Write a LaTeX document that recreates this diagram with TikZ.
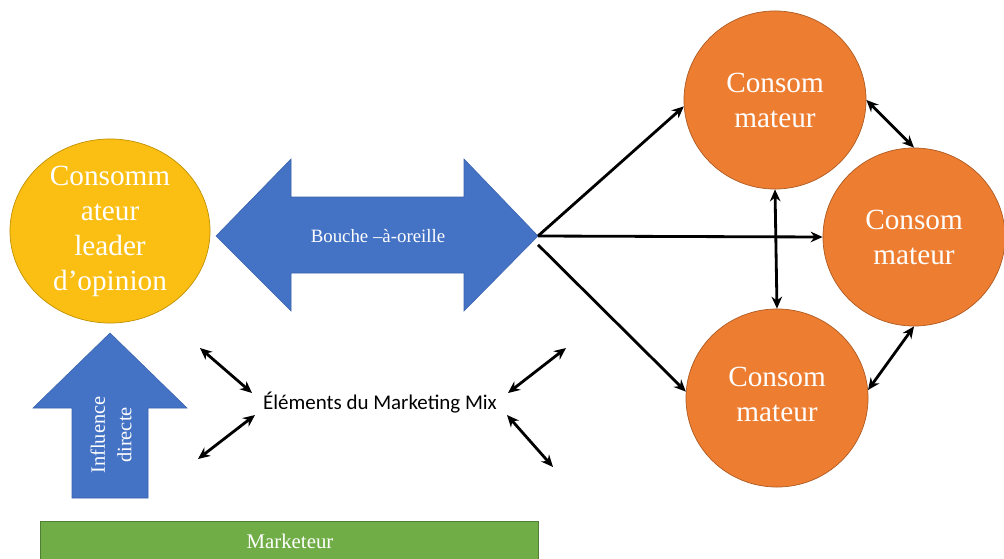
\documentclass[tikz,border=0pt]{standalone}
\usepackage{fontspec}
\setmainfont{Liberation Serif}
\newfontfamily\calib{Carlito}
\usetikzlibrary{shapes.geometric,arrows.meta}
\definecolor{ygold}{HTML}{FBBF14}
\definecolor{ygoldb}{HTML}{BF9000}
\definecolor{oorange}{HTML}{ED7D31}
\definecolor{oorangeb}{HTML}{AE5A21}
\definecolor{bblue}{HTML}{4472C4}
\definecolor{bblueb}{HTML}{3A63AE}
\definecolor{ggreen}{HTML}{70AD47}
\definecolor{ggreenb}{HTML}{507E32}
\begin{document}
\begin{tikzpicture}[x=0.025cm,y=-0.025cm,
  bigtxt/.style={text=white,align=center,font=\fontsize{20.8}{24.9}\selectfont},
  circ/.style={ellipse,draw=oorangeb,line width=0.5pt,fill=oorange,inner sep=0pt,
     minimum width=4.55cm,minimum height=4.45cm},
  conn/.style={line width=2pt,-{Stealth[length=8.5pt,width=7.5pt]}},
  dconn/.style={line width=2pt,{Stealth[length=8.5pt,width=7.5pt]}-{Stealth[length=8.5pt,width=7.5pt]}},
  shaftarrow/.style={fill=bblue,draw=bblueb,line width=0.4pt}]
\useasboundingbox (0,0) rectangle (1004,558);

% yellow leader circle
\node[ellipse,draw=ygoldb,line width=0.5pt,fill=ygold,inner sep=0pt,
  minimum width=5cm,minimum height=4.6cm] (lead) at (110,231) {};
\node[bigtxt] at (lead.center) {Consomm\\ateur\\leader\\d’opinion};

% blue double arrow
\draw[shaftarrow] (216,236) -- (291,159) -- (291,197) -- (464,197) -- (464,159)
  -- (538,236) -- (464,311) -- (464,273) -- (291,273) -- (291,311) -- cycle;
\node[text=white,font=\fontsize{13.4}{16}\selectfont] (bao) at (378,236) {Bouche –à-oreille};
\coordinate (tipR) at (538,236);

% up arrow
\draw[shaftarrow] (110,333) -- (187,408) -- (148,408) -- (148,498) -- (72,498)
  -- (72,408) -- (33,408) -- cycle;
\node[text=white,rotate=90,align=center,font=\fontsize{14.5}{18.8}\selectfont] (infl) at (111,435) {Influence\\directe};

% green bar
\draw[fill=ggreen,draw=ggreenb,line width=0.5pt] (40,521) rectangle (538,559);
\node[text=white,font=\fontsize{14.8}{18}\selectfont] (mkt) at (290,541) {Marketeur};

% orange consumers
\node[circ] (c1) at (775,100) {};
\node[bigtxt] at (c1.center) {Consom\\mateur};
\node[circ] (c2) at (914,237) {};
\node[bigtxt] at (c2.center) {Consom\\mateur};
\node[circ] (c3) at (777,398) {};
\node[bigtxt] at ([yshift=0.1cm]c3.center) {Consom\\mateur};

% connectors from word of mouth
\draw[conn] (tipR) -- (c1.184);
\draw[conn] (tipR) -- (c2.west);
\draw[conn] ([yshift=-0.22cm]tipR) -- (c3.176);

% between consumers
\draw[dconn] (c1.south) -- (c3.north);
\draw[dconn] (c1.east) -- (c2.north);
\draw[dconn] (c3.5) -- (c2.south);

% marketing mix
\node[font=\calib\fontsize{14.9}{18}\selectfont] (mix) at (380,403) {Éléments du Marketing Mix};
\coordinate (a1s) at (200,348); \coordinate (a1e) at (252,393);
\coordinate (a2s) at (198,459); \coordinate (a2e) at (255,415);
\coordinate (a3s) at (566,348); \coordinate (a3e) at (508,393);
\coordinate (a4s) at (553,467); \coordinate (a4e) at (507,415);
\draw[dconn] (a1s) -- (a1e);
\draw[dconn] (a2s) -- (a2e);
\draw[dconn] (a3s) -- (a3e);
\draw[dconn] (a4s) -- (a4e);
\end{tikzpicture}
\end{document}
